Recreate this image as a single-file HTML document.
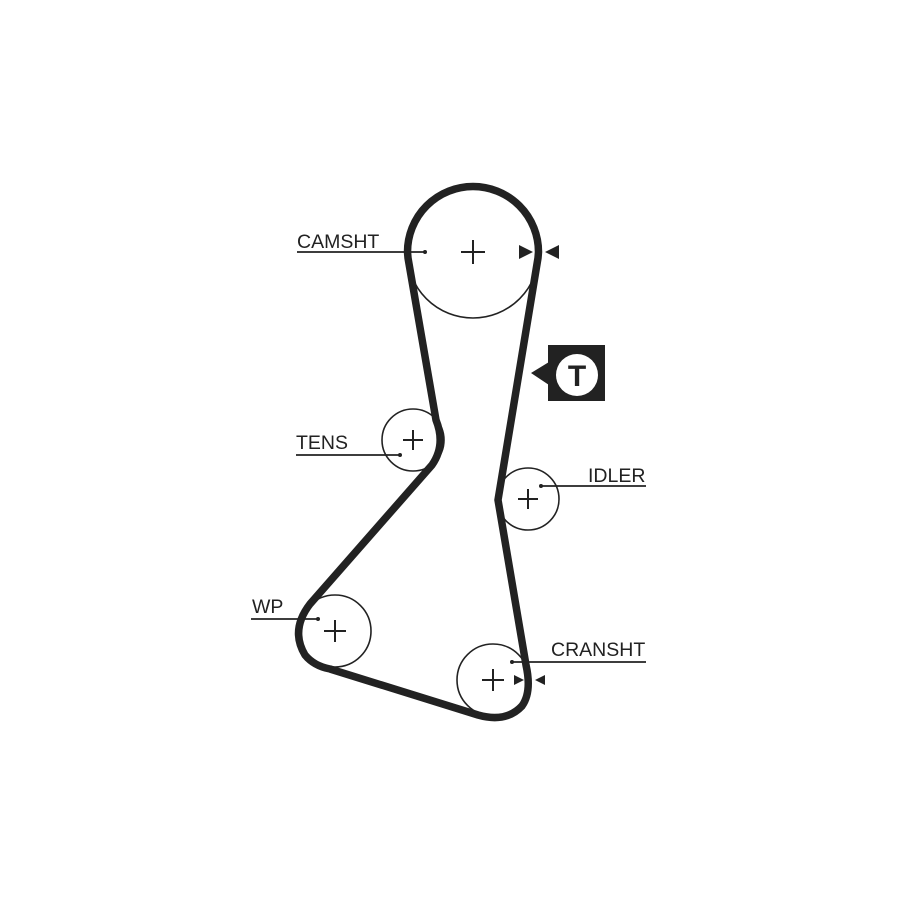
<!DOCTYPE html>
<html><head><meta charset="utf-8"><style>
html,body{margin:0;padding:0;background:#fff;}
svg{display:block}
text{font-family:"Liberation Sans",sans-serif;font-size:19.5px;fill:#222}
</style></head><body>
<svg width="900" height="900" viewBox="0 0 900 900">
<g fill="none" stroke="#222" stroke-width="1.6">
<circle cx="473" cy="252" r="66"/>
<circle cx="413" cy="440" r="31"/>
<circle cx="528" cy="499" r="31"/>
<circle cx="335" cy="631" r="36"/>
<circle cx="493" cy="680" r="36"/>
</g>
<g stroke="#222" stroke-width="2">
<path d="M461 252h24M473 240v24"/>
<path d="M403 440h20M413 430v20"/>
<path d="M518 499h20M528 489v20"/>
<path d="M324 631h22M335 620v22"/>
<path d="M482 680h22M493 669v22"/>
</g>
<path d="M538.5 252 A65.5 65.5 0 1 0 407.5 252 L408 258 L436 420 Q446 445 432 465 L310 604 Q290 630 305 655 Q314 666 330 669 L478 715 Q506 723 522 706 Q532 692 526 665 L498 500 L538 258 Z" fill="none" stroke="#222" stroke-width="7.5" stroke-linejoin="round"/>
<g stroke="#222" stroke-width="1.8">
<line x1="297" y1="252" x2="425" y2="252"/>
<line x1="296" y1="455" x2="400" y2="455"/>
<line x1="541" y1="486" x2="646" y2="486"/>
<line x1="251" y1="619" x2="318" y2="619"/>
<line x1="512" y1="662" x2="646" y2="662"/>
</g>
<g fill="#222">
<circle cx="425" cy="252" r="2"/><circle cx="400" cy="455" r="2"/><circle cx="541" cy="486" r="2"/><circle cx="318" cy="619" r="2"/><circle cx="512" cy="662" r="2"/>
<path d="M519 245L533 252L519 259Z"/><path d="M559 245L545 252L559 259Z"/>
<path d="M514 675L524 680L514 685Z"/><path d="M545 675L535 680L545 685Z"/>
<rect x="548" y="345" width="57" height="56"/>
<path d="M549 362L531 373L549 385Z"/>
</g>
<circle cx="577" cy="375" r="21" fill="#fff"/>
<text x="577" y="386" text-anchor="middle" style="font-size:30px;font-weight:bold;fill:#222">T</text>
<text x="297" y="248">CAMSHT</text>
<text x="296" y="449">TENS</text>
<text x="588" y="482">IDLER</text>
<text x="252" y="613">WP</text>
<text x="551" y="656">CRANSHT</text>
</svg>
</body></html>
